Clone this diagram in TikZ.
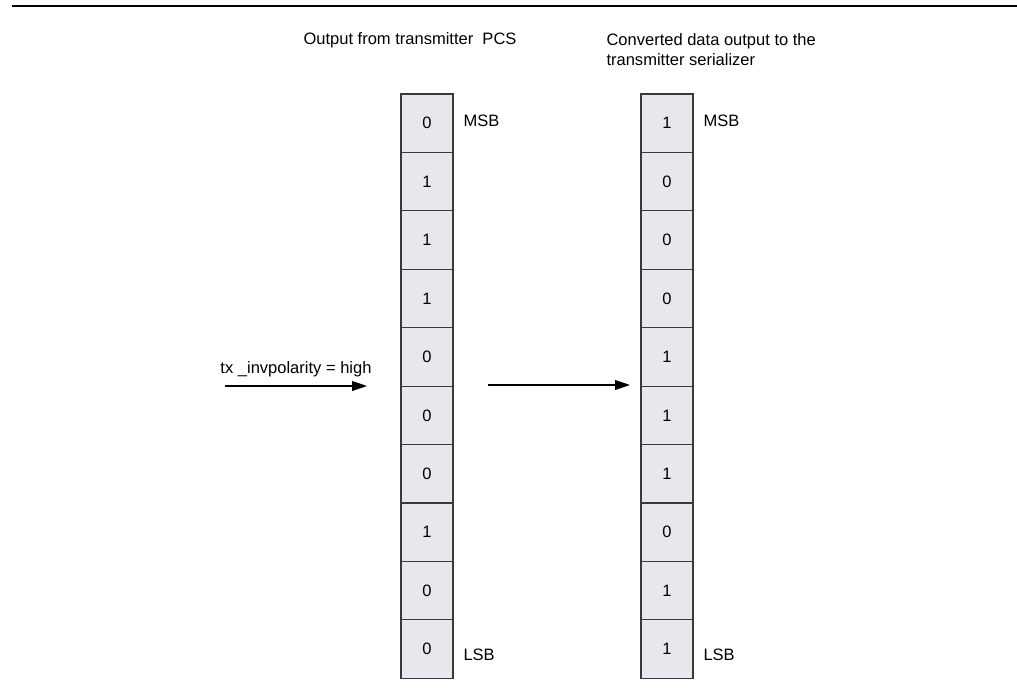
\documentclass[tikz,border=0pt]{standalone}
\usepackage{fontspec}
\setmainfont{Liberation Sans}
\usepackage{tikz}
\usetikzlibrary{arrows.meta, positioning}

\definecolor{cellfill}{HTML}{E6E8EE}
\definecolor{celledge}{HTML}{3A3A3A}

\begin{document}
\begin{tikzpicture}[
  x=0.02cm, y=-0.02cm,
  >={Triangle[length=8.5pt, width=5.6pt]}, line width=0.6pt,
  bitcell/.style={draw=celledge, fill=cellfill, minimum width=1.04cm, minimum height=1.1686cm, inner sep=0pt, outer sep=0pt},
  every node/.style={font=\fontsize{9.4}{11.3}\selectfont}
]
\useasboundingbox (0,0) rectangle (1017,689);
\draw[line width=1.2pt] (12,6) -- (1017,6);

\node[anchor=west, inner sep=0pt] (titleA) at (303,40) {Output from transmitter\ \ PCS};
\node[anchor=north west, align=left, inner sep=0pt] (titleB) at (606,33) {Converted data output to the\\transmitter serializer};

% left column: output from PCS
\node[bitcell] (L1) at (427,123.2) {0};
\node[bitcell] (L2) at (427,181.6) {1};
\node[bitcell] (L3) at (427,240.1) {1};
\node[bitcell] (L4) at (427,298.5) {1};
\node[bitcell] (L5) at (427,356.9) {0};
\node[bitcell] (L6) at (427,415.4) {0};
\node[bitcell] (L7) at (427,473.8) {0};
\node[bitcell] (L8) at (427,532.2) {1};
\node[bitcell] (L9) at (427,590.6) {0};
\node[bitcell] (L10) at (427,649.1) {0};
\node[anchor=west, inner sep=0pt] (msbL) at (463,121) {MSB};
\node[anchor=west, inner sep=0pt] (lsbL) at (463,655) {LSB};

% right column: converted data
\node[bitcell] (R1) at (667,123.2) {1};
\node[bitcell] (R2) at (667,181.6) {0};
\node[bitcell] (R3) at (667,240.1) {0};
\node[bitcell] (R4) at (667,298.5) {0};
\node[bitcell] (R5) at (667,356.9) {1};
\node[bitcell] (R6) at (667,415.4) {1};
\node[bitcell] (R7) at (667,473.8) {1};
\node[bitcell] (R8) at (667,532.2) {0};
\node[bitcell] (R9) at (667,590.6) {1};
\node[bitcell] (R10) at (667,649.1) {1};
\node[anchor=west, inner sep=0pt] (msbR) at (703,121) {MSB};
\node[anchor=west, inner sep=0pt] (lsbR) at (703,655) {LSB};

\coordinate (polIn) at (225,386);
\coordinate (polOut) at (367,386);
\coordinate (convIn) at (488,385);
\coordinate (convOut) at (630,385);
\draw[->] (polIn) -- node[above=5pt, inner sep=0pt] (polLabel) {tx \_invpolarity = high} (polOut);
\draw[->] (convIn) -- (convOut);
\end{tikzpicture}
\end{document}
